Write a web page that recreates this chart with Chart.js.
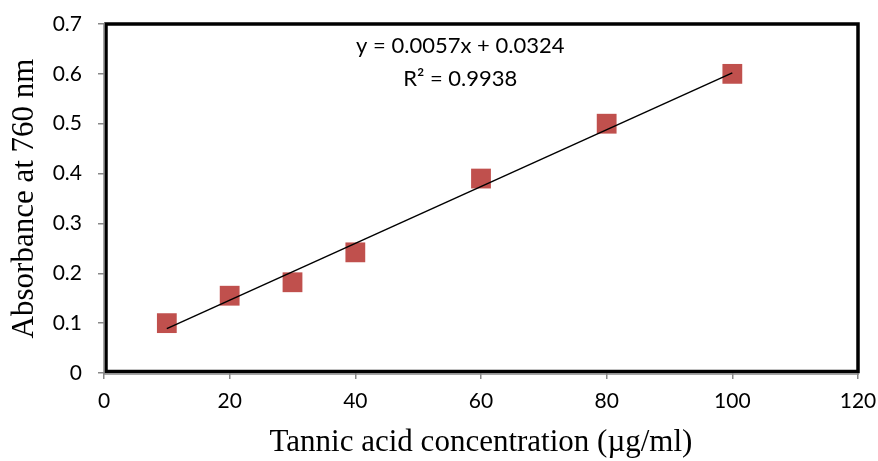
<!DOCTYPE html>
<html lang="en">
<head>
<meta charset="UTF-8">
<title>Tannic acid calibration</title>
<script src="https://cdn.jsdelivr.net/npm/chart.js"></script>
<style>
  html, body { margin:0; padding:0; background:#fff; }
  #wrap { width:878px; height:461px; }
</style>
</head>
<body>
<div id="wrap"><canvas id="calChart" width="878" height="461"></canvas></div>

<script>
// measured points
const concentration = [10, 20, 30, 40, 60, 80, 100];
const absorbance = [0.100, 0.155, 0.182, 0.242, 0.390, 0.500, 0.600];

// trendline end points
const trendX = [10, 100];
const trendY = [0.089, 0.602];

const equationText = "y = 0.0057x + 0.0324";
const r2Text = "R² = 0.9938";

const xTitle = "Tannic acid concentration (µg/ml)";
const yTitle = "Absorbance at 760 nm";

const tickFont = { family: "Lato, 'Open Sans', sans-serif", size: 21 };
const titleFont = { family: "'Liberation Serif', 'Times New Roman', serif", size: 31 };

// black frame round the plot area + equation label
const framePlugin = {
    id: "frame",
    afterDraw(chart){
        const { ctx, chartArea: a, scales } = chart;
        ctx.save();
        ctx.strokeStyle = "#000";
        ctx.lineWidth = 3.5;
        ctx.strokeRect(a.left + 2, a.top, a.right - a.left - 2, a.bottom - a.top - 1.5);
        // grey axis lines on the outside edge
        ctx.strokeStyle = "#888";
        ctx.lineWidth = 1.5;
        ctx.beginPath();
        ctx.moveTo(a.left, a.top - 1);
        ctx.lineTo(a.left, a.bottom + 1);
        ctx.lineTo(a.right + 1, a.bottom + 1);
        ctx.stroke();

        ctx.fillStyle = "#000";
        ctx.font = "22px Lato, 'Open Sans', sans-serif";
        ctx.textAlign = "center";
        ctx.textBaseline = "middle";
        const cx = scales.x.getPixelForValue(56.7);
        ctx.fillText(equationText, cx, scales.y.getPixelForValue(0.656));
        ctx.fillText(r2Text, cx, scales.y.getPixelForValue(0.59));
        ctx.restore();
    }
};

const ctx = document.getElementById("calChart").getContext("2d");
new Chart(ctx, {
    type: "scatter",
    data: {
        datasets: [
            {
                label: "Linear",
                type: "line",
                data: trendX.map((x, i) => ({ x: x, y: trendY[i] })),
                borderColor: "#000",
                borderWidth: 1.5,
                pointRadius: 0,
                fill: false,
                order: 1
            },
            {
                label: "Absorbance",
                data: concentration.map((x, i) => ({ x: x, y: absorbance[i] })),
                backgroundColor: "#C0504D",
                borderColor: "#C0504D",
                pointStyle: "rect",
                pointRadius: 14,
                pointHoverRadius: 14,
                borderWidth: 0,
                order: 2
            }
        ]
    },
    options: {
        responsive: false,
        animation: false,
        events: [],
        layout: { padding: { left: 6, right: 20, top: 24, bottom: 0 } },
        plugins: { legend: { display: false }, tooltip: { enabled: false } },
        scales: {
            x: {
                type: "linear",
                min: 0, max: 120,
                ticks: { stepSize: 20, color: "#000", font: tickFont, padding: 10 },
                grid: { display: true, drawOnChartArea: false, drawTicks: true, tickLength: 6, color: "#888", lineWidth: 1.5 },
                border: { display: false },
                title: { display: true, text: xTitle, color: "#000", font: titleFont, padding: { top: 8, bottom: 0 } },
                afterFit(s){ s.height = 88; s.paddingLeft = 0; s.paddingRight = 0; }
            },
            y: {
                min: 0, max: 0.7,
                ticks: { stepSize: 0.1, color: "#000", font: tickFont, padding: 16,
                         callback: v => v === 0 ? "0" : v.toFixed(1) },
                grid: { display: true, drawOnChartArea: false, drawTicks: true, tickLength: 6, color: "#888", lineWidth: 1.5 },
                border: { display: false },
                title: { display: true, text: yTitle, color: "#000", font: titleFont, padding: { top: 0, bottom: 4 } },
                afterFit(s){ s.width = 98; s.paddingTop = 0; s.paddingBottom = 0; }
            }
        }
    },
    plugins: [framePlugin]
});
</script>
</body>
</html>
